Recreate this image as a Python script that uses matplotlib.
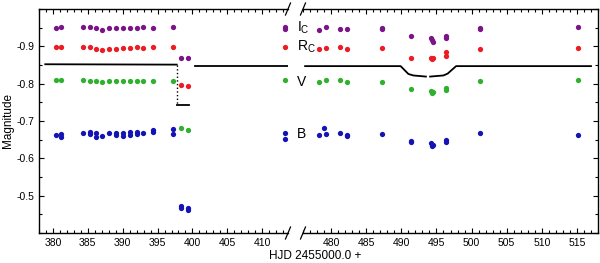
import matplotlib
matplotlib.use('Agg')
import matplotlib.pyplot as plt
from matplotlib.ticker import MultipleLocator

plt.rcParams['font.family'] = ['Liberation Sans', 'DejaVu Sans']
plt.rcParams['mathtext.fontset'] = 'custom'
plt.rcParams['mathtext.rm'] = 'Liberation Sans'

# photometry, left part of the broken axis
t_ic_l = [380.4, 381.2, 384.3, 385.3, 386.2, 387.1, 388.1, 389.1, 390.0, 391.0, 392.0, 392.9, 394.3, 397.2, 398.4, 399.3, 413.3, 413.3]
m_ic_l = [-0.949, -0.951, -0.951, -0.951, -0.949, -0.945, -0.948, -0.948, -0.948, -0.949, -0.950, -0.951, -0.949, -0.951, -0.870, -0.868, -0.951, -0.946]

t_rc_l = [380.4, 381.2, 384.3, 385.3, 386.2, 387.1, 388.1, 389.1, 390.0, 391.0, 392.0, 392.9, 394.3, 397.2, 398.4, 399.3, 413.3]
m_rc_l = [-0.898, -0.898, -0.898, -0.897, -0.894, -0.891, -0.894, -0.894, -0.895, -0.896, -0.897, -0.896, -0.898, -0.897, -0.796, -0.794, -0.897]

t_v_l = [380.4, 381.2, 384.3, 385.3, 386.2, 387.1, 388.1, 389.1, 390.0, 391.0, 392.0, 392.9, 394.3, 397.2, 398.4, 399.3, 413.3]
m_v_l = [-0.809, -0.809, -0.811, -0.808, -0.808, -0.805, -0.806, -0.807, -0.808, -0.808, -0.808, -0.808, -0.808, -0.807, -0.680, -0.677, -0.809]

t_b_l = [380.4, 381.2, 381.2, 384.3, 385.3, 385.3, 386.2, 386.2, 387.1, 388.1, 389.1, 389.1, 390.0, 390.0, 391.0, 391.0,
         392.0, 392.0, 392.9, 394.3, 394.3, 397.2, 397.2, 398.4, 398.4, 399.3, 399.3, 413.3, 413.3]
m_b_l = [-0.663, -0.664, -0.657, -0.669, -0.665, -0.671, -0.668, -0.657, -0.660, -0.667, -0.669, -0.663, -0.667, -0.660, -0.670, -0.663,
         -0.671, -0.665, -0.668, -0.676, -0.670, -0.678, -0.664, -0.472, -0.468, -0.466, -0.462, -0.667, -0.651]

# photometry, right part
t_ic_r = [478.3, 479.3, 481.3, 482.3, 487.3, 487.3, 491.4, 494.2, 494.4, 494.5, 496.3, 496.4, 501.2, 501.2, 515.2]
m_ic_r = [-0.945, -0.951, -0.947, -0.947, -0.948, -0.946, -0.927, -0.921, -0.916, -0.912, -0.928, -0.922, -0.950, -0.946, -0.951]

t_rc_r = [478.3, 479.3, 481.3, 482.3, 487.3, 491.4, 494.2, 494.3, 494.5, 496.3, 496.4, 501.2, 515.2]
m_rc_r = [-0.894, -0.895, -0.897, -0.892, -0.895, -0.870, -0.870, -0.866, -0.868, -0.884, -0.874, -0.894, -0.896]

t_v_r = [478.3, 479.3, 481.3, 482.3, 487.3, 491.4, 494.2, 494.3, 494.5, 496.3, 496.4, 501.2, 515.2]
m_v_r = [-0.805, -0.809, -0.809, -0.804, -0.805, -0.785, -0.781, -0.776, -0.779, -0.789, -0.783, -0.807, -0.811]

t_b_r = [478.3, 479.0, 479.3, 481.3, 482.3, 482.3, 487.3, 491.4, 491.4, 494.2, 494.3, 494.5, 496.3, 496.4, 501.2, 515.2]
m_b_r = [-0.663, -0.680, -0.665, -0.667, -0.663, -0.659, -0.664, -0.647, -0.643, -0.640, -0.634, -0.637, -0.648, -0.644, -0.667, -0.663]

# black reference curve (vertices)
curve1_t = [378.9, 397.75]
curve1_m = [-0.852, -0.851]
drop_t = [397.75, 397.75]
drop_m = [-0.851, -0.743]
curve2_t = [397.75, 399.5]
curve2_m = [-0.743, -0.743]
curve3_t = [400.3, 413.7]
curve3_m = [-0.846, -0.846]
curve4_t = [476.3, 489.9, 491.0, 491.7, 493.5]
curve4_m = [-0.847, -0.847, -0.826, -0.822, -0.819]
curve5_t = [494.1, 496.0, 496.6, 497.8, 517.0]
curve5_m = [-0.819, -0.822, -0.827, -0.847, -0.847]

col_ic = '#7b1487'
col_rc = '#ec1c24'
col_v = '#2fb02f'
col_b = '#1414b4'

fig = plt.figure(figsize=(6, 2.63), dpi=100)
ax1 = fig.add_axes([39/600, 30/263, 249/600, 224/263])
ax2 = fig.add_axes([303/600, 30/263, 295/600, 224/263])

ms = 3.8
for ax, sets in [(ax1, [(t_ic_l, m_ic_l, col_ic), (t_rc_l, m_rc_l, col_rc), (t_v_l, m_v_l, col_v), (t_b_l, m_b_l, col_b)]),
                 (ax2, [(t_ic_r, m_ic_r, col_ic), (t_rc_r, m_rc_r, col_rc), (t_v_r, m_v_r, col_v), (t_b_r, m_b_r, col_b)])]:
    for t, m, c in sets:
        ax.plot(t, m, 'o', ms=ms, color=c, mec='none')

ax1.plot(curve1_t, curve1_m, '-', color='k', lw=1.3)
ax1.plot(drop_t, drop_m, ':', color='k', lw=1.0)
ax1.plot(curve2_t, curve2_m, '-', color='k', lw=1.3)
ax1.plot(curve3_t, curve3_m, '-', color='k', lw=1.3)
ax2.plot(curve4_t, curve4_m, '-', color='k', lw=1.3)
ax2.plot(curve5_t, curve5_m, '-', color='k', lw=1.3)

ax1.set_xlim(378, 413.7)
ax2.set_xlim(476, 518)
for ax in (ax1, ax2):
    ax.set_ylim(-0.4, -1.0)
    ax.xaxis.set_major_locator(MultipleLocator(5))
    ax.xaxis.set_minor_locator(MultipleLocator(1))
    ax.yaxis.set_major_locator(MultipleLocator(0.1))
    ax.yaxis.set_minor_locator(MultipleLocator(0.05))
    ax.tick_params(which='both', direction='in', top=True, labelsize=7.5, width=0.8)
    ax.tick_params(which='major', length=3.5)
    ax.tick_params(which='minor', length=2)
    for s in ax.spines.values():
        s.set_linewidth(1.0)

ax1.spines['right'].set_visible(False)
ax1.tick_params(which='both', right=False)
ax1.set_yticks([-0.9, -0.8, -0.7, -0.6, -0.5])
ax1.set_yticklabels(['-0.9', '-0.8', '-0.7', '-0.6', '-0.5'])
ax2.spines['left'].set_visible(False)
ax2.tick_params(which='both', left=False, right=True, labelleft=False)

# break marks
dx1, dy = 2.5/249, 6/224
dx2 = 2.5/295
for yy in (0, 1):
    ax1.plot([1 - dx1, 1 + dx1], [yy - dy, yy + dy], color='k', lw=0.9, transform=ax1.transAxes, clip_on=False)
    ax2.plot([-dx2, dx2], [yy - dy, yy + dy], color='k', lw=0.9, transform=ax2.transAxes, clip_on=False)

# band labels
fig.text(297/600, 1 - 28/263, r'I$_{\mathrm{C}}$', fontsize=10, va='center', ha='left')
fig.text(297/600, 1 - 47/263, r'R$_{\mathrm{C}}$', fontsize=10, va='center', ha='left')
fig.text(297/600, 1 - 82/263, 'V', fontsize=10, va='center', ha='left')
fig.text(297/600, 1 - 134/263, 'B', fontsize=10, va='center', ha='left')

fig.text(315/600, 1 - 256/263, 'HJD 2455000.0 +', fontsize=8.5, ha='center', va='center')
fig.text(8/600, 1 - 121/263, 'Magnitude', fontsize=8.5, rotation=90, ha='center', va='center')

fig.savefig('out.png', dpi=100)
